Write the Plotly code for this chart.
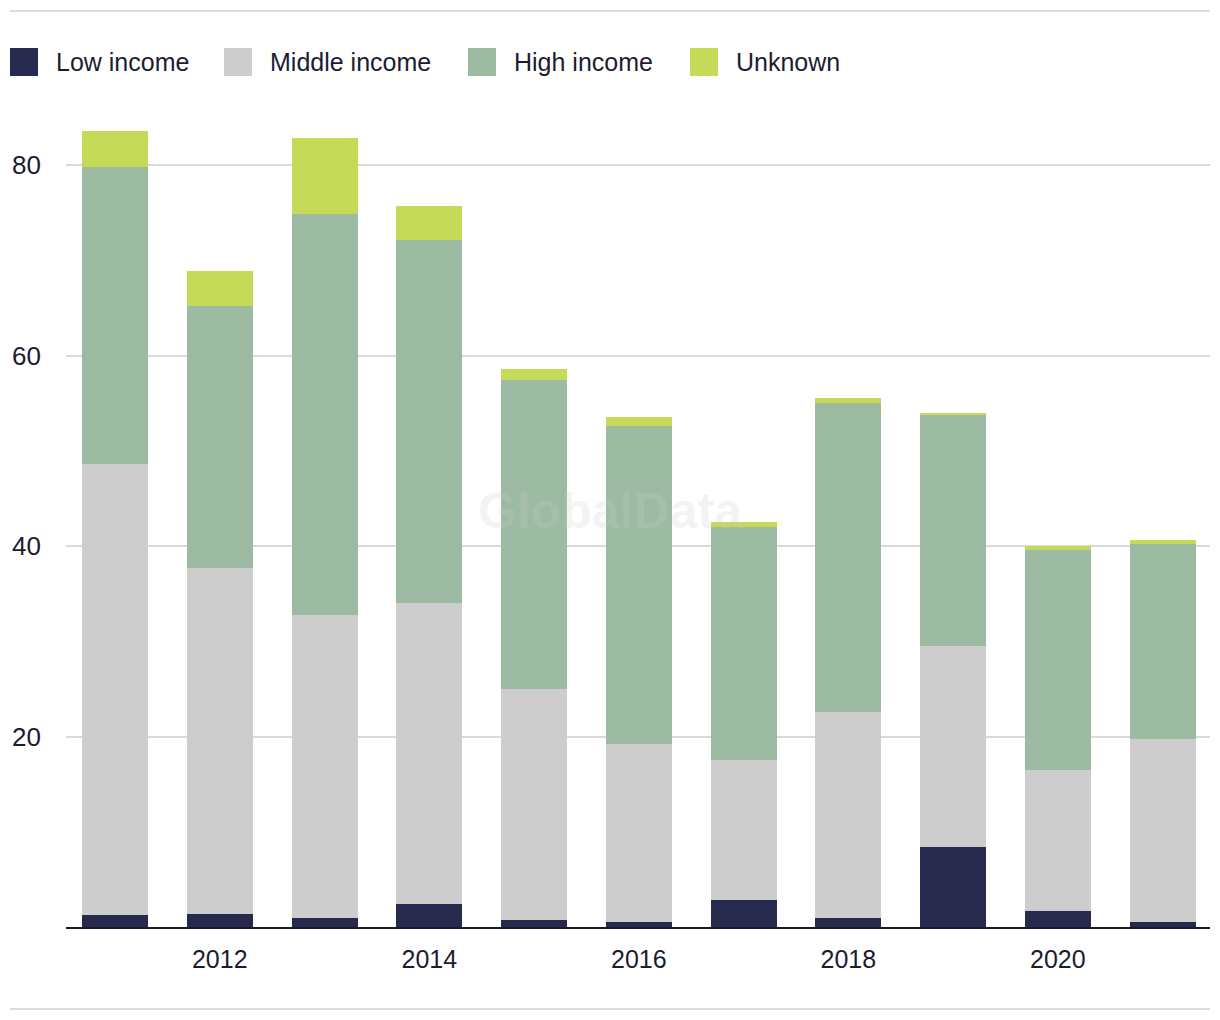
import plotly.graph_objects as go

years = [2011, 2012, 2013, 2014, 2015, 2016, 2017, 2018, 2019, 2020, 2021]
low_income = [1.3, 1.4, 0.95, 2.4, 0.75, 0.55, 2.85, 0.95, 8.4, 1.7, 0.55]
middle_income = [47.3, 36.3, 31.85, 31.6, 24.25, 18.65, 14.65, 21.65, 21.1, 14.8, 19.2]
high_income = [31.2, 27.5, 42.1, 38.1, 32.4, 33.4, 24.5, 32.4, 24.3, 23.1, 20.45]
unknown = [3.8, 3.7, 8.0, 3.6, 1.2, 1.0, 0.5, 0.6, 0.15, 0.4, 0.45]

series_names = ["Low income", "Middle income", "High income", "Unknown"]
series_values = [low_income, middle_income, high_income, unknown]
colors = ["#27294d", "#cdcdcd", "#9dbba2", "#c5da57"]

x_tick_vals = [2012, 2014, 2016, 2018, 2020]
x_tick_text = ["2012", "2014", "2016", "2018", "2020"]
y_tick_vals = [20, 40, 60, 80]
y_tick_text = ["20", "40", "60", "80"]

W, H = 1220, 1020
ML, MR, MT, MB = 66, 10, 89, 93
PW, PH = W - ML - MR, H - MT - MB
FONT = "Liberation Sans"
TEXT_COLOR = "#1c1c30"


def px_x(px):
    return (px - ML) / PW


def px_y(py):
    return (H - MB - py) / PH


fig = go.Figure()
for name, vals, col in zip(series_names, series_values, colors):
    fig.add_trace(go.Bar(x=years, y=vals, name=name, marker=dict(color=col, line=dict(width=0)),
                         width=0.63, showlegend=False))

shapes = []
annotations = []
# legend (custom, large squares)
legend_sq_x = [10, 224, 468, 690]
for name, col, sx in zip(series_names, colors, legend_sq_x):
    shapes.append(dict(type="rect", xref="paper", yref="paper",
                       x0=px_x(sx), x1=px_x(sx + 28), y0=px_y(76), y1=px_y(48),
                       fillcolor=col, line=dict(width=0), layer="above"))
    annotations.append(dict(text=name, xref="paper", yref="paper", x=px_x(sx + 44), y=px_y(62),
                            xanchor="left", yanchor="middle", showarrow=False,
                            font=dict(family=FONT, size=25, color=TEXT_COLOR)))

# top and bottom separator lines
for py in (11, 1009):
    shapes.append(dict(type="line", xref="paper", yref="paper", x0=px_x(10), x1=px_x(1210),
                       y0=px_y(py), y1=px_y(py), line=dict(color="#dddddd", width=2)))

# watermark
annotations.append(dict(text="<b>GlobalData</b>", xref="paper", yref="paper", x=px_x(610), y=px_y(511),
                        xanchor="center", yanchor="middle", showarrow=False,
                        font=dict(family=FONT, size=50, color="rgba(200,200,200,0.22)")))

fig.update_layout(
    barmode="stack",
    width=W, height=H,
    margin=dict(l=ML, r=MR, t=MT, b=MB),
    plot_bgcolor="white", paper_bgcolor="white",
    font=dict(family=FONT, size=25, color=TEXT_COLOR),
    shapes=shapes,
    annotations=annotations,
    showlegend=False,
    xaxis=dict(range=[2010.532, 2021.4525], tickvals=x_tick_vals, ticktext=x_tick_text,
               showgrid=False, zeroline=False, showline=True, linecolor="#1a1a2e", linewidth=2,
               ticks="", ticklabelstandoff=9, tickfont=dict(family=FONT, size=25, color=TEXT_COLOR)),
    yaxis=dict(range=[0, 88], tickvals=y_tick_vals, ticktext=y_tick_text,
               showgrid=True, gridcolor="#dadada", gridwidth=2, zeroline=False, showline=False,
               ticks="", ticklabelstandoff=24, tickfont=dict(family=FONT, size=26, color=TEXT_COLOR)),
)

fig.write_html("out.html", config={"displayModeBar": False},
               post_script="document.body.style.margin='0px';")
